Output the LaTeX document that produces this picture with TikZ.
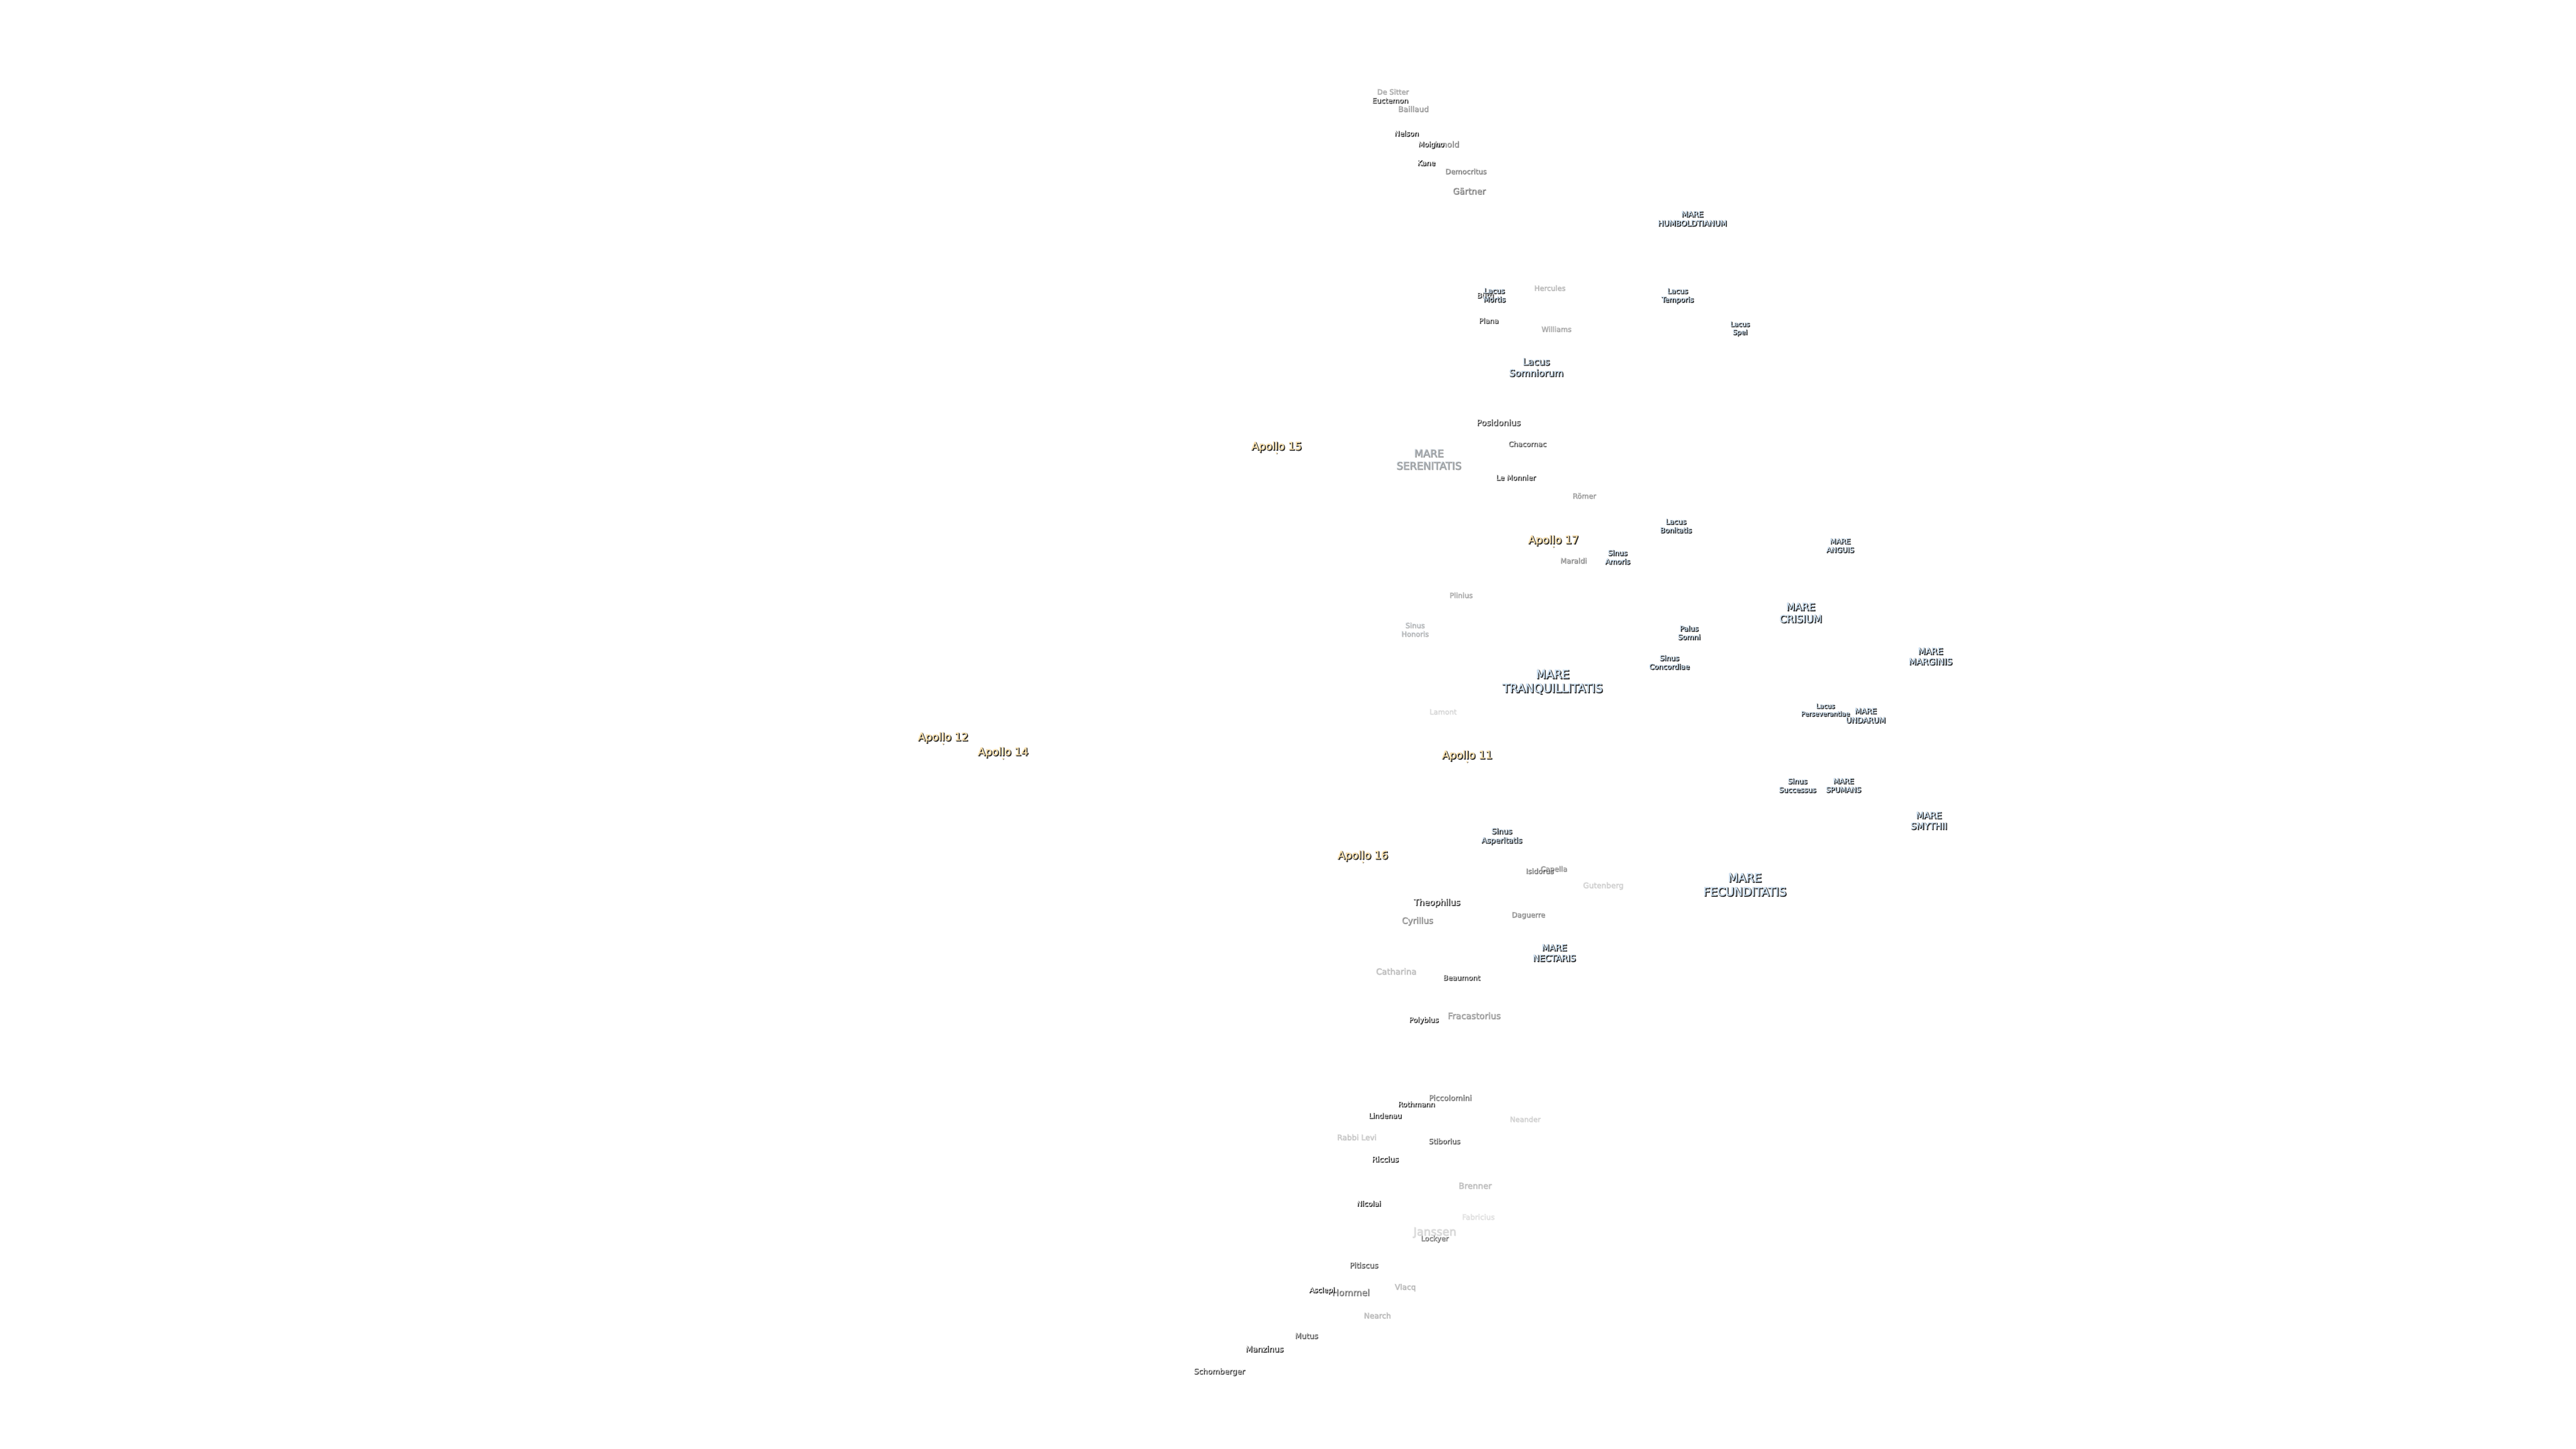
\documentclass[tikz,border=0pt]{standalone}
\usepackage{fontspec}
\setmainfont{DejaVu Sans}
\newfontfamily\fontehalo[FakeBold=8]{DejaVu Sans}
\newfontfamily\fontesombra[FakeBold=4]{DejaVu Sans}
\newfontfamily\fontefrente[FakeBold=1.5]{DejaVu Sans}

\definecolor{cor_cratera}{named}{white}
\definecolor{cor_mar}{HTML}{CFE2F3}
\definecolor{cor_apollo}{HTML}{FFE3B0}
\definecolor{cor_sombra}{HTML}{202020}

\newcommand{\rotulo}[7]{%
    \pgfmathsetmacro\tam{#4*0.2845}%
    \pgfmathsetmacro\ent{#4*0.2845*1.2}%
    \pgfmathsetmacro\opa{#5*0.42}%
    \pgfmathsetmacro\opb{#5*0.85}%
    \node[sombra, font=\fontehalo\fontsize{\tam}{\ent}\selectfont, text opacity=\opa,
        xshift=0.01cm, yshift=-0.01cm] (#1h) at (#2,#3) {#6};
    \node[sombra, font=\fontesombra\fontsize{\tam}{\ent}\selectfont, text opacity=\opb,
        xshift=0.02cm, yshift=-0.02cm] (#1s) at (#2,#3) {#6};
    \node[sombra, font=\fontefrente\fontsize{\tam}{\ent}\selectfont, text=#7, text opacity=#5] (#1) at (#2,#3) {#6};
}

\begin{document}
\begin{tikzpicture}[x=0.036735cm, y=-0.036735cm]
        \tikzset{
            sombra/.style={
                inner sep=0pt,
                align=center,
                text=cor_sombra
            }
        }
        \useasboundingbox (0,0) rectangle (1568,882);

        \foreach \x/\y/\tama/\op/\nome [count=\i] in { %CRATERAS
            847.5/55.5/16/.25/De Sitter, 846/61/16/.8/Euctemon, 860/66/17/.3/Baillaud,
            856/81/16/1/Nelson, 880/87.5/18/.35/Arnold, 871/88/16/.85/Moigno,
            868/99/16/1/Kane, 892/104/16/.4/Democritus, 894/116/19/.4/G\"artner,
            904/180/16/.8/B\"urg, 943/175/16/.2/Hercules, 906/195/16/.7/Plana,
            947/200/16/.25/Williams, 912/257/18.5/.7/Posidonius, 929.5/270/16/.6/Chacornac,
            922.5/290.5/16/.8/Le Monnier, 964/301.5/16/.3/R\"omer, 957.5/341/16/.35/Maraldi,
            889/362/16/.25/Plinius, 878/433/16/.1/Lamont, 945.5/529/16/.35/Capella,
            937/530/16/.45/Isidorus, 975.5/539/17/.12/Gutenberg, 874.5/549.5/19/.85/Theophilus,
            930/557/16/.35/Daguerre, 862.5/560.5/19/.35/Cyrillus, 849.5/591/18.5/.18/Catharina,
            889.5/595/16/.7/Beaumont, 897/618/19.5/.3/Fracastorius, 866.5/621/16/.85/Polybius,
            882.5/668/17/.45/Piccolomini, 862/672/16/.85/Rothmann, 843/679/16/.85/Lindenau,
            928/681/16/.12/Neander, 825.5/692/17/.15/Rabbi Levi, 879/694.5/16/.6/Stiborius,
            843/705.5/17/1/Riccius, 897.5/721.5/18.5/.18/Brenner, 833/732.5/16/1/Nicolai,
            899.5/740.5/16.5/.08/Fabricius, 873/750/25/.1/Janssen, 873/754/16/.45/Lockyer,
            830/770/17/.6/Pitiscus, 822/786.5/20/.45/Hommel, 804.5/785.5/16/1/Asclepi,
            855/783.5/17/.2/Vlacq, 838/800.5/17/.2/Nearch, 795/813/17/.6/Mutus,
            769.5/821/18/.85/Manzinus, 742/835/17/.7/Schomberger} {
            \rotulo{c\i}{\x}{\y}{\tama}{\op}{\nome}{cor_cratera}
        }

        \foreach \x/\y/\tama/\op/\nome [count=\i] in { %MARES E LAGOS
            1030/133/17/1/MARE\\HUMBOLDTIANUM, 909.5/179.5/16/1/Lacus\\Mortis,
            1021/180/16/1/Lacus\\Temporis, 1059/200/15/1/Lacus\\Spei,
            935/223.5/21/.9/Lacus\\Somniorum, 869.5/279.5/23/.3/MARE\\SERENITATIS,
            1020/320/16/1/Lacus\\Bonitatis, 1120/332/16/1/MARE\\ANGUIS,
            984.5/339/16/1/Sinus\\Amoris, 1096/373/22.5/1/MARE\\CRISIUM,
            861/383/16/.2/Sinus\\Honoris, 1028/385/16/1/Palus\\Somni,
            1175/399.5/19.5/1/MARE\\MARGINIS, 1016/403/16/1/Sinus\\Concordiae,
            945/415/26/1/MARE\\TRANQUILLITATIS, 1111/432/14.5/1/Lacus\\Perseverantiae,
            1135.5/435.5/17/1/MARE\\UNDARUM, 1094/478/16/1/Sinus\\Successus,
            1122/478/16/1/MARE\\SPUMANS, 1174/499.5/20/1/MARE\\SMYTHII,
            914/509/17/.9/Sinus\\Asperitatis, 1062/538.5/26/1/MARE\\FECUNDITATIS,
            946/580/19.5/1/MARE\\NECTARIS} {
            \rotulo{m\i}{\x}{\y}{\tama}{\op}{\nome}{cor_mar}
        }

        \foreach \x/\y/\nome [count=\i] in { %APOLLOS
            777/272/Apollo 15, 945.5/329/Apollo 17, 574/449/Apollo 12,
            610.5/458/Apollo 14, 893/460/Apollo 11, 829.5/521/Apollo 16} {
            \rotulo{a\i}{\x}{\y}{24}{1}{\nome}{cor_apollo}
            \fill[cor_sombra, opacity=0.7] (\x+0.3,\y+4.1) circle (0.02cm);
            \fill[cor_apollo] (\x,\y+3.8) circle (0.02cm);
        }

    \end{tikzpicture}
\end{document}
